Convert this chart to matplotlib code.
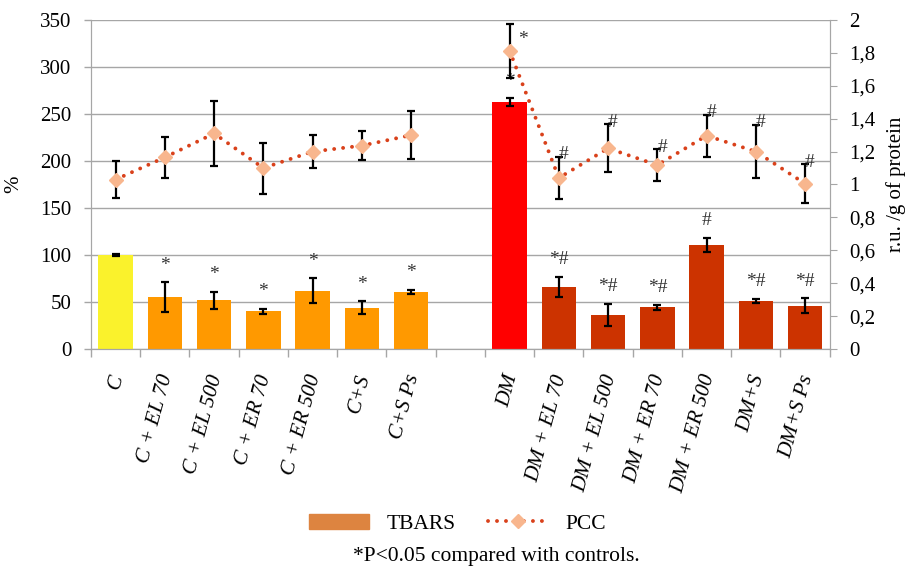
import numpy as np
import matplotlib.pyplot as plt
from matplotlib.patches import Patch
from matplotlib.lines import Line2D

categories = ["C", "C + EL 70", "C + EL 500", "C + ER 70", "C + ER 500", "C+S", "C+S Ps",
              "",
              "DM", "DM + EL 70", "DM + EL 500", "DM + ER 70", "DM + ER 500", "DM+S", "DM+S Ps"]
tbars = [100, 55, 52, 40, 62, 44, 61, np.nan, 263, 66, 36, 44.5, 111, 51, 46]
tbars_err = [1.5, 16, 9, 3, 13, 7, 2, np.nan, 4, 11, 12, 2.5, 7.5, 2.5, 8]
pcc = [1.03, 1.165, 1.31, 1.10, 1.20, 1.236, 1.30, np.nan, 1.813, 1.04, 1.22, 1.118, 1.297, 1.20, 1.005]
pcc_err = [0.11, 0.125, 0.2, 0.155, 0.1, 0.09, 0.145, np.nan, 0.163, 0.13, 0.147, 0.095, 0.127, 0.163, 0.12]
bar_marks = ["", "*", "*", "*", "*", "*", "*", "", "*", "*#", "*#", "*#", "#", "*#", "*#"]
pcc_marks = ["", "", "", "", "", "", "", "", "*", "#", "#", "#", "#", "#", "#"]
bar_colors = ["#FAF22C"] + ["#FF9900"] * 6 + ["none"] + ["#FF0000"] + ["#CC3300"] * 6

plt.rcParams['font.family'] = ['Liberation Serif', 'DejaVu Serif']

fig = plt.figure(figsize=(9.06, 5.66), dpi=100)
ax = fig.add_axes([0.1004, 0.3834, 0.8154, 0.5813])
x = np.arange(len(categories))

ax.set_axisbelow(True)
ax.yaxis.grid(True, color="#A6A6A6", linewidth=1)
ax.bar(x, np.nan_to_num(tbars), width=0.7, color=bar_colors, zorder=2)
ax.errorbar(x, tbars, yerr=tbars_err, fmt="none", ecolor="black", elinewidth=1.6,
            capsize=3, capthick=1.6, zorder=3)
for xi, v, e, m in zip(x, tbars, tbars_err, bar_marks):
    if m:
        ax.text(xi, v + e + 9, m, ha="center", va="bottom", fontsize=14, color="#333333")

ax.set_xlim(-0.5, len(categories) - 0.5)
ax.set_ylim(0, 350)
ax.set_yticks(range(0, 351, 50))
ax.set_xticks(np.arange(-0.5, len(categories), 1))
ax.set_xticklabels([])
ax.tick_params(axis="x", length=6, color="#A6A6A6", width=1)
ax.tick_params(axis="y", length=5, color="#A6A6A6", labelsize=15, width=1, pad=9)
for xi, lab in zip(x, categories):
    ax.text(xi - 0.13, -25, lab, rotation=75, ha="right", va="top", rotation_mode="anchor",
            fontsize=15.5, style="italic")
ax.set_ylabel("%", fontsize=15, labelpad=12)
ax.spines["top"].set_visible(False)
for s in ["left", "bottom", "right"]:
    ax.spines[s].set_color("#A6A6A6")

ax2 = ax.twinx()
ax2.errorbar(x, pcc, yerr=pcc_err, fmt="none", ecolor="black", elinewidth=1.6,
             capsize=3, capthick=1.6, zorder=3)
line_kw = dict(linestyle=(0, (0.01, 2.3)), linewidth=2.8, color="#D9411B", dash_capstyle="round",
               marker="D", markersize=7.5, markerfacecolor="#F8B68E", markeredgecolor="#F8B68E")
ax2.plot(x, pcc, zorder=4, **line_kw)
for xi, v, e, m in zip(x, pcc, pcc_err, pcc_marks):
    if m == "*":
        ax2.text(xi + 0.28, v + 0.07, m, ha="center", va="center", fontsize=14, color="#333333")
    elif m:
        ax2.text(xi + 0.1, v + e - 0.04, m, ha="center", va="bottom", fontsize=14, color="#333333")
ax2.set_ylim(0, 2)
ax2.set_yticks(np.arange(0, 2.01, 0.2))
ax2.set_yticklabels(["0", "0,2", "0,4", "0,6", "0,8", "1", "1,2", "1,4", "1,6", "1,8", "2"])
ax2.tick_params(axis="y", length=5, color="#A6A6A6", labelsize=15, pad=9)
ax2.set_ylabel("r.u. /g of protein", fontsize=15, labelpad=8)
ax2.spines["top"].set_visible(False)
for s in ["left", "bottom", "right"]:
    ax2.spines[s].set_color("#A6A6A6")

handles = [Patch(color="#DD8440"), Line2D([], [], **line_kw)]
fig.legend(handles, ["TBARS", "PCC"], loc="center", bbox_to_anchor=(0.505, 0.075), ncol=2,
           frameon=False, fontsize=15.5, handlelength=2.8, columnspacing=1.5)
fig.text(0.548, 0.016, "*P<0.05 compared with controls.", ha="center", va="center", fontsize=15.5)

fig.savefig("out.png", dpi=100)
